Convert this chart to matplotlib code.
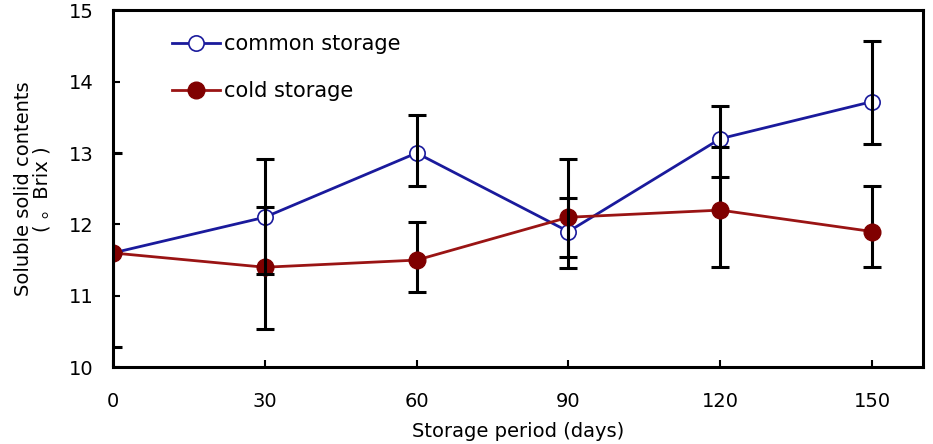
import numpy as np
import matplotlib
matplotlib.use("Agg")
import matplotlib.pyplot as plt

plt.rcParams['font.family'] = ['DejaVu Sans', 'Noto Sans CJK KR']

days = [0, 30, 60, 90, 120, 150]

common = [11.6, 12.1, 13.0, 11.9, 13.2, 13.72]
common_hi = [13.0, 12.91, 13.53, 12.37, 13.66, 14.57]
common_lo = [10.28, 11.3, 12.54, 11.55, 12.67, 13.12]

cold = [11.6, 11.4, 11.5, 12.1, 12.2, 11.9]
cold_hi = [11.6, 12.25, 12.04, 12.91, 13.08, 12.54]
cold_lo = [11.6, 10.53, 11.06, 11.39, 11.40, 11.40]

blue = '#1a1a9c'
red = '#9a1414'


def yerr(vals, lo, hi):
    vals = np.array(vals)
    return [vals - np.array(lo), np.array(hi) - vals]


fig = plt.figure(figsize=(9.33, 4.44), dpi=100)
ax = fig.add_axes([0.121, 0.173, 0.868, 0.804])

ax.plot(days, common, color=blue, lw=2, marker='o', ms=11, mfc='white',
        mec=blue, mew=1.2, zorder=2, label='common storage')
ax.errorbar(days, cold, yerr=yerr(cold, cold_lo, cold_hi), fmt='none',
            ecolor='black', elinewidth=2.2, capsize=6.5, capthick=2.2, zorder=3)
ax.plot(days, cold, color=red, lw=2, marker='o', ms=12, mfc='#800000',
        mec='#800000', zorder=4, label='cold storage')
ax.errorbar(days, common, yerr=yerr(common, common_lo, common_hi), fmt='none',
            ecolor='black', elinewidth=2.2, capsize=6.5, capthick=2.2, zorder=5)

ax.set_xlim(0, 160)
ax.set_ylim(10, 15)
ax.set_xticks(days)
ax.set_yticks(range(10, 16))
ax.tick_params(direction='in', length=5, width=1.5, labelsize=14)
ax.tick_params(axis='x', pad=18)
ax.tick_params(axis='y', pad=14)
for s in ax.spines.values():
    s.set_linewidth(2.2)

ax.set_xlabel('Storage period (days)', fontsize=14, labelpad=8)
ax.set_ylabel('Soluble solid contents\n( 。Brix )', fontsize=14, labelpad=12,
              linespacing=1.0)

ax.legend(loc='upper left', bbox_to_anchor=(0.05, 0.985), frameon=False,
          fontsize=15, handlelength=2.3, handletextpad=0.2, labelspacing=1.3,
          borderaxespad=0.5)

fig.savefig('out.png', dpi=100)
